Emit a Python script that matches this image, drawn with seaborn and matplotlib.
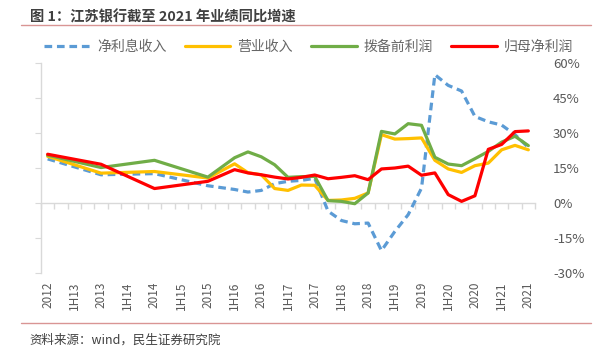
import numpy as np
import pandas as pd
import matplotlib
matplotlib.use('Agg')
import matplotlib.pyplot as plt
from matplotlib.lines import Line2D
import seaborn as sns

nan = np.nan

# quarterly categories, only annual data before 1H16
periods = ['2012', '1Q13', '1H13', '3Q13', '2013', '1Q14', '1H14', '3Q14', '2014',
           '1Q15', '1H15', '3Q15', '2015', '1Q16', '1H16', '3Q16', '2016',
           '1Q17', '1H17', '3Q17', '2017', '1Q18', '1H18', '3Q18', '2018',
           '1Q19', '1H19', '3Q19', '2019', '1Q20', '1H20', '3Q20', '2020',
           '1Q21', '1H21', '3Q21', '2021']

nii = [18.9, nan, nan, nan, 12.1, nan, nan, nan, 12.6, nan, nan, nan, 7.4, nan,
       5.8, 4.7, 5.4, 8.3, 9.3, 9.7, 10.6, -3.5, -7.5, -8.9, -8.6, -20.4, -12.2,
       -5.0, 6.4, 55.0, 50.4, 48.0, 37.1, 34.8, 33.4, 29.3, 23.8]
revenue = [20.0, nan, nan, nan, 12.8, nan, nan, nan, 13.5, nan, nan, nan, 10.7, nan,
           16.8, 13.0, 12.1, 6.2, 5.4, 7.7, 7.6, 1.1, 1.3, 2.0, 4.3, 29.3, 27.4,
           27.6, 27.9, 18.3, 14.6, 13.1, 16.0, 17.1, 22.8, 24.7, 22.8]
ppop = [20.5, nan, nan, nan, 15.2, nan, nan, nan, 18.3, nan, nan, nan, 11.1, nan,
        19.4, 21.9, 19.8, 16.4, 11.0, 11.3, 11.4, 1.0, 0.7, -0.3, 4.3, 30.7, 29.6,
        34.0, 33.3, 19.6, 16.7, 16.0, 19.0, 22.1, 26.1, 28.6, 24.6]
net_profit = [20.9, nan, nan, nan, 16.6, nan, nan, nan, 6.2, nan, nan, nan, 9.3, nan,
              14.3, 12.9, 12.1, 11.1, 10.3, 11.0, 12.0, 10.4, 11.0, 11.7, 10.0, 14.6,
              15.0, 15.8, 11.9, 12.9, 3.6, 0.7, 3.1, 23.0, 25.1, 30.6, 30.9]

names = ['净利息收入', '营业收入', '拨备前利润', '归母净利润']
colors = ['#5B9BD5', '#FFC000', '#70AD47', '#FF0000']

df = pd.DataFrame({'idx': np.arange(len(periods)), '净利息收入': nii, '营业收入': revenue,
                   '拨备前利润': ppop, '归母净利润': net_profit})
long = df.melt(id_vars='idx', var_name='series', value_name='value').dropna()

sns.set_style('white')
plt.rcParams['font.family'] = ['Noto Sans CJK SC', 'DejaVu Sans']

fig = plt.figure(figsize=(5.94, 3.52), dpi=100)
ax = fig.add_axes([0.069, 0.2244, 0.8317, 0.5966])

sns.lineplot(data=long, x='idx', y='value', hue='series', style='series',
             hue_order=names, style_order=names, palette=colors,
             dashes={'净利息收入': (2.4, 1.5), '营业收入': '', '拨备前利润': '', '归母净利润': ''},
             linewidth=2.3, ax=ax)

handles, labels = ax.get_legend_handles_labels()
ax.get_legend().remove()

ax.set_xlim(-0.5, len(periods) - 0.5)
ax.set_ylim(-30, 60)
ax.set_yticks(np.arange(-30, 61, 15))
ax.set_yticklabels([f'{v}%' for v in range(-30, 61, 15)])
ax.tick_params(axis='y', left=True, right=False, labelleft=False, labelright=True,
               direction='out', length=4, color='#d9d9d9', labelsize=9.5,
               labelcolor='#595959', pad=9)

tick_pos = list(range(0, len(periods), 2))
ax.set_xticks(tick_pos)
ax.set_xticklabels([periods[i] for i in tick_pos], rotation=90)
ax.tick_params(axis='x', length=0, labelsize=8.5, labelcolor='#595959', pad=6)
ax.set_xlabel('')
ax.set_ylabel('')

for s in ['top', 'right', 'bottom']:
    ax.spines[s].set_visible(False)
ax.spines['left'].set_color('#d9d9d9')
ax.spines['left'].set_linewidth(1.0)

# category axis at 0%
zero_axis = ax.secondary_xaxis(1 / 3)
zero_axis.set_xticks(np.arange(-0.5, len(periods), 1))
zero_axis.tick_params(axis='x', length=4, color='#d9d9d9', labelbottom=False,
                      direction='out', width=1.0)
zero_axis.spines['bottom'].set_color('#d9d9d9')
zero_axis.spines['bottom'].set_linewidth(1.0)

fig.legend(handles, labels, loc='center', bbox_to_anchor=(0.52, 0.866), ncol=4,
           frameon=False, handlelength=3.3, columnspacing=1.3, handletextpad=0.5,
           prop={'size': 10}, labelcolor='#666666')

fig.text(0.05, 0.952, '图 1：江苏银行截至 2021 年业绩同比增速', fontsize=10.3,
         fontweight='bold', color='#404040', va='center', ha='left')
fig.add_artist(Line2D([0.035, 0.995], [0.928, 0.928], color='#D99594', lw=1.0))
fig.add_artist(Line2D([0.035, 0.995], [0.083, 0.083], color='#D99594', lw=1.0))
fig.text(0.05, 0.035, '资料来源：wind，民生证券研究院', fontsize=9,
         color='#404040', va='center', ha='left')

fig.savefig('out.png', dpi=100)
